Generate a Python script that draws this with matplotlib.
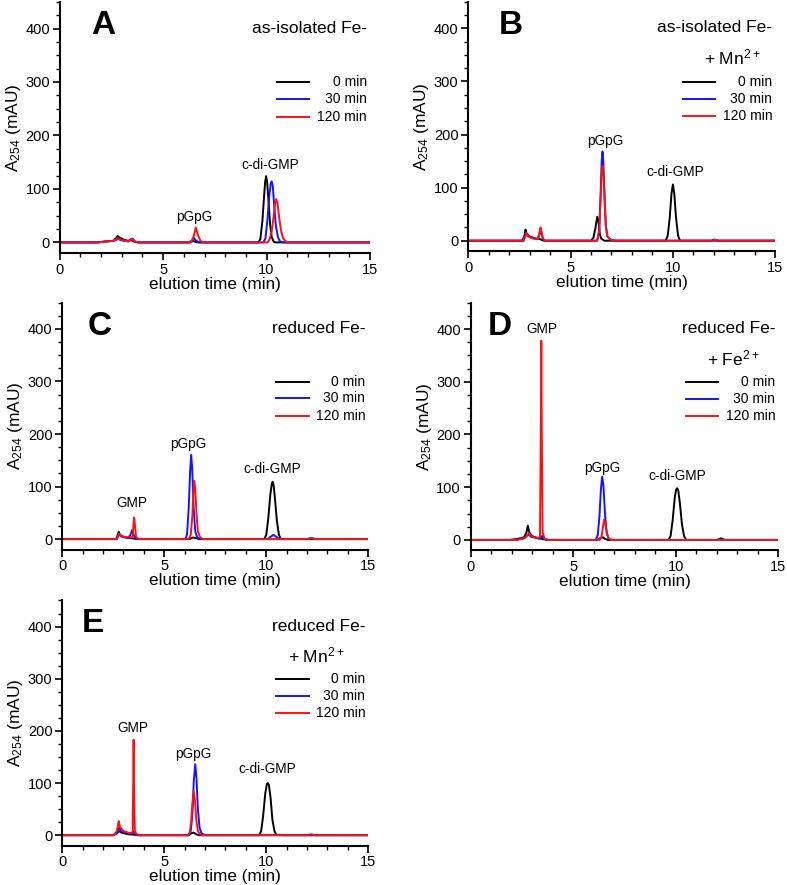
import matplotlib
matplotlib.use("Agg")
import matplotlib.pyplot as plt
from matplotlib.ticker import MultipleLocator

plt.rcParams['font.family'] = 'Liberation Sans'
plt.rcParams['mathtext.fontset'] = 'custom'
plt.rcParams['mathtext.rm'] = 'Liberation Sans'
plt.rcParams['mathtext.it'] = 'Liberation Sans:italic'
plt.rcParams['mathtext.bf'] = 'Liberation Sans:bold'

# chromatogram traces: (elution time [min], A254 [mAU])
A_0 = [(0, 0), (1.8, 0), (2.2, 1.5), (2.6, 3), (2.72, 8), (2.8, 12), (2.9, 9), (3.1, 5), (3.3, 3),
       (3.45, 4), (3.55, 2), (3.8, 0), (6.3, 0), (6.45, 3), (6.55, 1), (6.7, 0),
       (9.6, 0), (9.7, 6), (9.8, 40), (9.87, 80), (9.93, 112), (9.98, 124), (10.03, 112),
       (10.1, 75), (10.17, 35), (10.25, 10), (10.35, 1), (10.45, 0), (15, 0)]
A_30 = [(0, 0), (1.8, 0), (2.2, 2), (2.6, 3), (2.75, 5), (2.82, 7), (2.95, 4), (3.3, 2), (3.45, 6),
        (3.52, 7), (3.62, 2), (3.8, 0), (6.25, 0), (6.4, 4), (6.5, 8), (6.6, 3), (6.75, 0),
        (9.85, 0), (9.95, 8), (10.05, 45), (10.13, 85), (10.2, 110), (10.25, 114), (10.3, 106),
        (10.37, 70), (10.45, 32), (10.55, 10), (10.65, 2), (10.8, 0), (15, 0)]
A_120 = [(0, 0), (1.9, 0), (2.3, 2), (2.6, 3), (2.75, 6), (2.82, 8), (2.95, 5), (3.3, 2), (3.45, 5),
         (3.52, 6), (3.62, 2), (3.8, 0), (6.35, 0), (6.48, 12), (6.58, 28), (6.68, 14), (6.8, 3),
         (6.95, 0), (10.05, 0), (10.15, 6), (10.25, 20), (10.35, 50), (10.42, 75), (10.47, 81),
         (10.53, 74), (10.6, 50), (10.7, 22), (10.8, 8), (10.95, 1), (11.1, 0), (15, 0)]

B_0 = [(0, 0), (2.65, 0), (2.75, 10), (2.8, 21), (2.85, 13), (3.0, 8), (3.3, 4), (3.5, 3), (3.7, 0),
       (6.0, 0), (6.12, 6), (6.22, 25), (6.3, 45), (6.36, 38), (6.43, 12), (6.5, 4), (6.65, 0),
       (9.65, 0), (9.75, 10), (9.85, 45), (9.93, 88), (10.0, 106), (10.07, 88), (10.15, 45),
       (10.25, 10), (10.35, 0), (11.9, 0), (12.0, 2), (12.2, 0), (15, 0)]
B_30 = [(0, 0), (2.7, 0), (2.78, 8), (2.82, 15), (2.9, 9), (3.1, 5), (3.4, 3), (3.48, 12), (3.53, 20),
        (3.58, 14), (3.65, 3), (3.75, 0), (6.3, 0), (6.4, 20), (6.47, 90), (6.52, 150), (6.56, 168),
        (6.6, 150), (6.66, 85), (6.72, 30), (6.8, 8), (6.95, 2), (7.2, 0), (15, 0)]
B_120 = [(0, 0), (2.7, 0), (2.78, 8), (2.82, 14), (2.9, 9), (3.1, 5), (3.4, 3), (3.48, 15), (3.53, 25),
         (3.58, 18), (3.65, 4), (3.75, 0), (6.3, 0), (6.4, 18), (6.47, 80), (6.52, 125), (6.57, 141),
         (6.62, 120), (6.67, 70), (6.73, 25), (6.8, 8), (6.95, 2), (7.2, 0),
         (11.9, 0), (12.05, 2), (12.25, 0), (15, 0)]

C_0 = [(0, 0), (2.65, 0), (2.72, 8), (2.77, 14), (2.83, 8), (3.0, 4), (3.3, 2), (3.5, 1), (3.7, 0),
       (6.25, 0), (6.4, 3), (6.55, 2), (6.7, 0), (9.9, 0), (10.0, 8), (10.1, 40), (10.2, 85),
       (10.27, 105), (10.31, 109), (10.36, 103), (10.43, 75), (10.52, 35), (10.62, 8), (10.72, 0), (15, 0)]
C_30 = [(0, 0), (2.68, 0), (2.75, 6), (2.8, 9), (2.9, 5), (3.2, 2), (3.35, 8), (3.42, 17), (3.48, 9),
        (3.6, 2), (3.75, 0), (6.05, 0), (6.12, 10), (6.2, 60), (6.27, 130), (6.32, 160), (6.37, 135),
        (6.44, 60), (6.52, 15), (6.62, 3), (6.8, 0), (10.05, 0), (10.2, 4), (10.35, 8), (10.5, 4),
        (10.65, 0), (12.0, 0), (12.2, 2), (12.4, 0), (15, 0)]
C_120 = [(0, 0), (2.68, 0), (2.75, 8), (2.8, 10), (2.9, 6), (3.2, 3), (3.45, 4), (3.5, 30), (3.53, 41),
         (3.57, 25), (3.62, 4), (3.75, 0), (6.2, 0), (6.3, 8), (6.38, 45), (6.43, 90), (6.47, 111),
         (6.52, 95), (6.58, 50), (6.65, 15), (6.75, 4), (6.9, 0), (12.0, 0), (12.2, 2), (12.4, 0), (15, 0)]

D_0 = [(0, 0), (1.9, 0), (2.3, 2), (2.6, 5), (2.72, 14), (2.79, 27), (2.86, 14), (3.0, 7), (3.3, 3),
       (3.6, 1), (3.8, 0), (6.2, 0), (6.35, 4), (6.45, 5), (6.55, 2), (6.7, 0),
       (9.65, 0), (9.75, 8), (9.85, 38), (9.95, 80), (10.02, 96), (10.07, 98), (10.12, 94),
       (10.2, 70), (10.3, 30), (10.4, 8), (10.5, 0), (12.0, 0), (12.2, 3), (12.4, 0), (15, 0)]
D_30 = [(0, 0), (2.2, 0), (2.6, 3), (2.75, 8), (2.82, 10), (2.95, 6), (3.3, 3), (3.45, 5), (3.5, 8),
        (3.56, 3), (3.7, 0), (6.1, 0), (6.2, 10), (6.28, 45), (6.35, 95), (6.41, 120), (6.47, 105),
        (6.55, 50), (6.63, 15), (6.72, 3), (6.85, 0), (15, 0)]
D_120 = [(0, 0), (2.3, 0), (2.65, 4), (2.78, 10), (2.84, 12), (2.95, 7), (3.2, 4), (3.38, 5),
         (3.42, 200), (3.445, 378), (3.47, 200), (3.51, 15), (3.6, 3), (3.75, 0),
         (6.3, 0), (6.38, 6), (6.45, 25), (6.51, 39), (6.57, 30), (6.65, 10), (6.75, 2), (6.9, 0), (15, 0)]

E_0 = [(0, 0), (2.5, 0), (2.7, 4), (2.78, 8), (2.9, 5), (3.2, 2), (3.5, 1), (3.7, 0),
       (6.2, 0), (6.35, 4), (6.45, 5), (6.55, 2), (6.7, 0), (9.65, 0), (9.75, 8), (9.85, 38),
       (9.95, 80), (10.03, 98), (10.08, 100), (10.13, 96), (10.21, 72), (10.3, 30), (10.4, 8),
       (10.5, 0), (15, 0)]
E_30 = [(0, 0), (2.5, 0), (2.7, 6), (2.78, 14), (2.9, 8), (3.2, 4), (3.42, 3), (3.48, 8), (3.53, 3),
        (3.7, 0), (6.2, 0), (6.3, 8), (6.38, 40), (6.45, 105), (6.52, 136), (6.58, 110), (6.65, 50),
        (6.73, 15), (6.82, 4), (7.0, 0), (10.4, 0), (10.6, 1), (10.8, 0), (15, 0)]
E_120 = [(0, 0), (2.55, 0), (2.68, 8), (2.74, 20), (2.77, 27), (2.83, 16), (3.0, 8), (3.3, 4),
         (3.45, 5), (3.48, 100), (3.5, 183), (3.52, 100), (3.56, 8), (3.65, 2), (3.8, 0),
         (6.15, 0), (6.25, 5), (6.32, 25), (6.38, 60), (6.44, 84), (6.5, 70), (6.57, 30),
         (6.65, 8), (6.75, 2), (6.9, 0), (12.0, 0), (12.2, 2), (12.4, 0), (15, 0)]

times = ['0 min', '30 min', '120 min']
colors = ['#000000', '#1414ff', '#ff1010']

letters = ['A', 'B', 'C', 'D', 'E']
cond_line1 = ['as-isolated Fe-', 'as-isolated Fe-', 'reduced Fe-', 'reduced Fe-', 'reduced Fe-']
cond_line2 = [None, '+ Mn$^{2+}$', None, '+ Fe$^{2+}$', '+ Mn$^{2+}$']
line2_x = [None, 0.86, None, 0.855, 0.83]
traces = [(A_0, A_30, A_120), (B_0, B_30, B_120), (C_0, C_30, C_120),
          (D_0, D_30, D_120), (E_0, E_30, E_120)]
# peak labels: (text, time, mAU)
peak_labels = [
    [('pGpG', 6.5, 48), ('c-di-GMP', 10.2, 145)],
    [('pGpG', 6.7, 187), ('c-di-GMP', 10.1, 130)],
    [('GMP', 3.43, 69), ('pGpG', 6.18, 181), ('c-di-GMP', 10.3, 133)],
    [('GMP', 3.46, 400), ('pGpG', 6.43, 137), ('c-di-GMP', 10.08, 121)],
    [('GMP', 3.48, 206), ('pGpG', 6.42, 156), ('c-di-GMP', 10.05, 126)],
]

positions = [
    [0.076, 0.714, 0.394, 0.284],
    [0.595, 0.716, 0.390, 0.282],
    [0.079, 0.379, 0.389, 0.279],
    [0.598, 0.378, 0.391, 0.280],
    [0.079, 0.0445, 0.389, 0.277],
]
letter_x = [0.10, 0.098, 0.082, 0.055, 0.065]

fig = plt.figure(figsize=(7.87, 8.85), dpi=100)

for i in range(5):
    ax = fig.add_axes(positions[i])
    for tr, c in zip(traces[i], colors):
        t = [p[0] for p in tr]
        a = [p[1] for p in tr]
        ax.plot(t, a, color=c, lw=1.4)

    ax.set_xlim(0, 15)
    ax.set_ylim(-20, 450)
    ax.xaxis.set_major_locator(MultipleLocator(5))
    ax.xaxis.set_minor_locator(MultipleLocator(1))
    ax.yaxis.set_major_locator(MultipleLocator(100))
    ax.yaxis.set_minor_locator(MultipleLocator(25))
    ax.tick_params(which='major', direction='out', length=5, width=1.2, labelsize=10.5, pad=2)
    ax.tick_params(which='minor', direction='out', length=3, width=1.0)
    for s in ['top', 'right']:
        ax.spines[s].set_visible(False)
    for s in ['left', 'bottom']:
        ax.spines[s].set_linewidth(1.5)

    ax.set_xlabel('elution time (min)', fontsize=12.3, labelpad=0)
    ax.set_ylabel('A$_{254}$ (mAU)', fontsize=12.5, labelpad=2)

    ax.text(letter_x[i], 0.905, letters[i], transform=ax.transAxes, fontsize=24,
            fontweight='bold', ha='left', va='center')
    ax.text(0.99, 0.895, cond_line1[i], transform=ax.transAxes, fontsize=12.5,
            ha='right', va='center')
    if cond_line2[i]:
        ax.text(line2_x[i], 0.775, cond_line2[i], transform=ax.transAxes, fontsize=12.5,
                ha='center', va='center')

    # legend
    for c, lab, yy in zip(colors, times, [0.68, 0.612, 0.542]):
        ax.plot([0.70, 0.805], [yy, yy], transform=ax.transAxes, color=c, lw=1.4)
        ax.text(0.99, yy, lab, transform=ax.transAxes, fontsize=10, ha='right', va='center')

    for lab, x, y in peak_labels[i]:
        ax.text(x, y, lab, fontsize=9.8, ha='center', va='center')

fig.savefig('out.png', dpi=100)
